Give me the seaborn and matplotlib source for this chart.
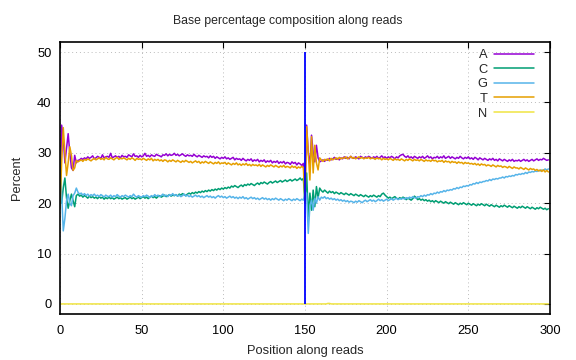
import numpy as np
import pandas as pd
import seaborn as sns
import matplotlib
matplotlib.use("Agg")
from matplotlib import pyplot as plt

# percent of each base at each read position (pos 0-149 read 1, 150-299 read 2)
pct_A = [
    20.0, 35.5, 33.0, 28.0, 31.0, 33.8, 30.0, 27.0, 26.5, 29.5,
    28.0, 28.5, 28.6, 28.9, 28.7, 29.0, 28.8, 29.2, 28.9, 29.1,
    29.4, 28.8, 29.0, 29.3, 29.1, 28.9, 29.6, 29.0, 29.2, 29.3,
    29.1, 29.9, 29.0, 29.2, 29.4, 29.1, 29.3, 29.0, 29.5, 29.2,
    29.3, 29.1, 29.6, 29.4, 29.2, 29.8, 29.3, 29.4, 29.1, 29.5,
    29.2, 29.4, 29.9, 29.3, 29.5, 29.2, 29.6, 29.4, 29.3, 29.7,
    29.5, 29.4, 29.2, 29.6, 29.5, 29.8, 29.4, 29.7, 29.5, 29.6,
    29.9, 29.5, 29.7, 29.4, 29.6, 29.8, 29.5, 29.3, 29.6, 29.4,
    29.5, 29.3, 29.7, 29.4, 29.2, 29.5, 29.3, 29.1, 29.4, 29.2,
    29.3, 29.0, 29.4, 29.1, 29.3, 28.9, 29.2, 29.0, 28.8, 29.1,
    28.9, 29.2, 28.8, 29.0, 28.7, 28.9, 29.1, 28.6, 28.9, 28.7,
    28.8, 28.5, 28.9, 28.6, 28.4, 28.7, 28.5, 28.8, 28.3, 28.6,
    28.4, 28.7, 28.2, 28.5, 28.3, 28.6, 28.1, 28.4, 28.2, 28.5,
    28.0, 28.3, 28.1, 28.4, 27.9, 28.2, 28.0, 28.3, 27.8, 28.1,
    28.0, 27.7, 28.2, 27.9, 28.1, 27.6, 28.0, 27.8, 27.5, 27.9,
    22.5, 35.5, 30.0, 27.5, 33.5, 30.0, 28.2, 31.5, 29.0, 28.2,
    28.4, 28.6, 28.3, 28.7, 28.5, 28.9, 28.6, 28.8, 29.1, 28.7,
    28.9, 28.6, 29.0, 28.8, 29.2, 28.9, 29.1, 28.8, 29.3, 29.0,
    28.9, 29.2, 29.0, 28.8, 29.3, 29.1, 28.9, 29.2, 29.0, 29.3,
    29.1, 28.9, 29.2, 29.0, 29.3, 28.9, 29.1, 29.4, 29.0, 29.2,
    28.9, 29.2, 29.0, 29.3, 29.1, 28.8, 29.2, 29.0, 29.4, 29.6,
    29.7, 29.3, 29.1, 29.4, 29.0, 29.2, 28.9, 29.3, 29.1, 28.9,
    29.2, 29.0, 29.3, 28.9, 29.1, 29.4, 29.0, 29.2, 28.8, 29.1,
    29.0, 29.3, 28.9, 29.2, 29.0, 29.4, 28.9, 29.1, 29.3, 28.9,
    29.2, 29.0, 28.8, 29.1, 28.9, 29.3, 29.0, 28.8, 29.1, 28.9,
    29.2, 28.8, 29.0, 28.7, 29.1, 28.9, 28.6, 29.0, 28.8, 28.6,
    28.9, 28.7, 28.5, 28.8, 28.6, 28.9, 28.5, 28.7, 28.4, 28.8,
    28.6, 28.4, 28.7, 28.5, 28.3, 28.6, 28.4, 28.7, 28.3, 28.5,
    28.4, 28.6, 28.3, 28.5, 28.7, 28.4, 28.6, 28.3, 28.5, 28.7,
    28.4, 28.6, 28.8, 28.5, 28.7, 28.6, 28.9, 28.7, 28.5, 28.6,
]
pct_C = [
    31.5, 20.0, 23.0, 25.0, 21.0, 19.0, 20.5, 21.8, 20.5, 19.3,
    21.5, 21.8, 21.4, 21.6, 21.2, 21.5, 21.3, 21.0, 21.4, 21.1,
    21.3, 21.0, 21.2, 20.9, 21.3, 21.0, 21.2, 20.8, 21.1, 20.9,
    21.2, 20.9, 21.1, 20.8, 21.0, 21.2, 20.9, 21.1, 20.8, 21.0,
    21.1, 20.8, 21.0, 21.2, 20.9, 21.1, 20.8, 21.0, 21.2, 20.9,
    21.1, 21.3, 21.0, 21.2, 20.9, 21.2, 21.4, 21.1, 21.3, 21.0,
    21.3, 21.5, 21.2, 21.4, 21.6, 21.3, 21.5, 21.7, 21.4, 21.6,
    21.5, 21.7, 21.4, 21.8, 21.6, 21.9, 21.7, 21.5, 21.8, 22.0,
    21.8, 22.1, 21.9, 22.2, 22.0, 22.3, 22.1, 22.4, 22.2, 22.5,
    22.3, 22.6, 22.4, 22.7, 22.5, 22.8, 22.6, 22.9, 22.7, 23.0,
    22.8, 23.1, 22.9, 23.2, 23.0, 23.4, 23.2, 23.5, 23.3, 23.1,
    23.4, 23.6, 23.3, 23.7, 23.5, 23.8, 23.6, 23.9, 23.7, 23.5,
    23.8, 24.0, 23.7, 24.1, 23.9, 24.2, 24.0, 23.8, 24.1, 24.3,
    24.0, 24.2, 24.4, 24.1, 24.3, 24.5, 24.2, 24.4, 24.6, 24.3,
    24.5, 24.7, 24.4, 24.6, 24.8, 24.5, 24.7, 25.0, 24.6, 24.9,
    20.0, 26.0, 17.3, 22.0, 18.6, 22.6, 19.3, 23.3, 21.0, 23.0,
    22.5, 22.2, 22.6, 22.3, 22.0, 22.4, 22.1, 22.3, 21.9, 22.2,
    22.0, 21.8, 22.1, 21.9, 21.7, 22.0, 21.8, 21.6, 21.9, 21.7,
    21.5, 21.8, 21.6, 21.4, 21.7, 21.5, 21.3, 21.6, 21.4, 21.2,
    21.5, 21.3, 21.6, 21.4, 21.2, 21.5, 21.3, 21.8, 22.0, 21.6,
    21.3, 21.0, 21.2, 20.9, 21.1, 21.3, 21.0, 20.8, 21.1, 20.9,
    21.2, 21.0, 20.7, 21.0, 20.8, 20.6, 20.9, 21.4, 21.1, 20.7,
    20.9, 20.6, 20.8, 20.5, 20.7, 20.4, 20.6, 20.3, 20.5, 20.2,
    20.5, 20.3, 20.1, 20.4, 20.2, 20.0, 20.3, 20.1, 19.9, 20.2,
    20.0, 19.8, 20.1, 19.9, 19.7, 20.0, 19.8, 20.1, 19.9, 19.7,
    20.0, 19.8, 19.6, 19.9, 19.7, 19.5, 19.8, 19.6, 19.9, 19.7,
    19.5, 19.8, 19.6, 19.4, 19.7, 19.5, 19.3, 19.6, 19.4, 19.2,
    19.5, 19.3, 19.6, 19.4, 19.2, 19.5, 19.3, 19.1, 19.4, 19.2,
    19.0, 19.3, 19.1, 19.4, 19.2, 19.0, 19.3, 19.1, 18.9, 19.2,
    19.0, 18.8, 19.1, 18.9, 19.2, 19.0, 18.8, 19.0, 18.7, 18.9,
]
pct_G = [
    31.0, 22.0, 14.5, 17.0, 20.5, 21.8, 20.0, 19.5, 21.5, 22.0,
    23.0, 22.2, 21.8, 22.0, 21.6, 21.9, 21.5, 21.8, 21.4, 21.7,
    21.5, 21.8, 21.4, 21.6, 21.3, 21.7, 21.5, 21.2, 21.6, 21.4,
    21.3, 21.6, 21.2, 21.5, 21.3, 21.7, 21.4, 21.2, 21.5, 21.3,
    21.6, 21.4, 21.2, 21.5, 21.3, 21.8, 21.4, 21.2, 21.5, 21.3,
    21.2, 21.5, 21.3, 21.6, 21.4, 21.1, 21.5, 21.3, 21.7, 21.4,
    21.6, 21.3, 21.5, 21.8, 21.4, 21.6, 21.3, 21.7, 21.5, 21.9,
    21.5, 21.7, 21.4, 21.6, 21.3, 21.5, 21.8, 21.4, 21.6, 21.3,
    21.5, 21.2, 21.4, 21.6, 21.3, 21.5, 21.2, 21.4, 21.1, 21.3,
    21.5, 21.2, 21.4, 21.1, 21.3, 21.0, 21.3, 21.5, 21.2, 21.4,
    21.1, 21.3, 21.0, 21.2, 21.4, 21.1, 21.3, 21.0, 21.2, 20.9,
    21.2, 21.0, 21.3, 20.9, 21.1, 20.8, 21.0, 21.2, 20.9, 21.1,
    20.8, 21.0, 20.7, 20.9, 21.1, 20.8, 21.0, 20.7, 20.9, 20.6,
    20.9, 20.7, 21.0, 20.8, 20.6, 20.9, 20.7, 20.5, 20.8, 20.6,
    20.9, 20.7, 20.5, 20.8, 20.6, 20.9, 20.7, 20.5, 20.8, 20.6,
    22.0, 22.0, 14.0, 19.5, 20.6, 18.6, 21.0, 20.0, 21.3, 20.6,
    21.2, 21.0, 21.3, 20.9, 21.1, 20.8, 21.0, 20.7, 20.9, 20.6,
    20.8, 20.5, 20.7, 20.4, 20.6, 20.3, 20.5, 20.2, 20.4, 20.3,
    20.1, 20.4, 20.2, 20.5, 20.3, 20.1, 20.4, 20.6, 20.3, 20.5,
    20.7, 20.4, 20.6, 20.3, 20.5, 20.8, 20.5, 20.7, 20.4, 20.6,
    20.8, 20.5, 20.7, 20.9, 20.6, 20.8, 21.0, 20.7, 20.9, 20.8,
    21.0, 20.8, 21.1, 20.9, 21.2, 21.0, 21.3, 21.1, 21.0, 21.3,
    21.2, 21.5, 21.3, 21.6, 21.4, 21.7, 21.6, 21.9, 21.7, 22.0,
    21.9, 22.2, 22.0, 22.3, 22.2, 22.5, 22.3, 22.6, 22.5, 22.7,
    22.6, 22.9, 22.8, 23.1, 22.9, 23.2, 23.1, 23.4, 23.3, 23.5,
    23.4, 23.7, 23.6, 23.9, 23.8, 24.1, 23.9, 24.2, 24.1, 24.3,
    24.3, 24.5, 24.4, 24.7, 24.5, 24.8, 24.7, 24.9, 24.8, 25.0,
    25.0, 25.2, 25.0, 25.3, 25.2, 25.4, 25.3, 25.5, 25.4, 25.7,
    25.6, 25.8, 25.7, 25.9, 25.8, 26.1, 25.9, 26.2, 26.1, 26.3,
    26.2, 26.4, 26.3, 26.5, 26.4, 26.6, 26.5, 26.8, 26.6, 26.8,
]
pct_T = [
    19.0, 28.0, 35.0, 30.0, 25.5, 28.0, 31.2, 29.5, 26.5, 27.0,
    28.5, 28.2, 28.4, 28.6, 28.3, 28.7, 28.5, 28.8, 28.6, 28.4,
    28.7, 28.9, 28.6, 28.8, 29.0, 28.7, 28.9, 28.6, 29.1, 28.8,
    28.7, 29.0, 28.8, 28.6, 28.9, 29.1, 28.7, 28.9, 28.8, 29.0,
    28.8, 28.6, 28.9, 28.7, 29.0, 28.8, 28.5, 28.9, 28.7, 28.8,
    28.6, 28.9, 28.7, 28.5, 28.8, 28.6, 28.9, 28.4, 28.7, 28.5,
    28.7, 28.4, 28.6, 28.3, 28.6, 28.5, 28.2, 28.5, 28.3, 28.6,
    28.4, 28.2, 28.5, 28.3, 28.1, 28.4, 28.2, 28.5, 28.3, 28.1,
    28.3, 28.0, 28.2, 28.4, 28.1, 28.3, 27.9, 28.2, 28.0, 28.3,
    28.1, 27.9, 28.2, 28.0, 27.8, 28.1, 27.9, 28.2, 27.8, 28.0,
    27.9, 28.1, 27.7, 28.0, 27.8, 27.6, 27.9, 27.7, 28.0, 27.6,
    27.8, 27.5, 27.8, 27.6, 27.9, 27.5, 27.7, 27.4, 27.7, 27.5,
    27.6, 27.4, 27.7, 27.3, 27.6, 27.4, 27.2, 27.5, 27.3, 27.6,
    27.4, 27.2, 27.5, 27.3, 27.1, 27.4, 27.2, 27.5, 27.1, 27.3,
    27.2, 27.0, 27.4, 27.1, 27.3, 26.9, 27.2, 27.0, 27.3, 27.1,
    20.0, 35.2, 30.0, 24.6, 33.2, 26.0, 31.5, 28.0, 26.6, 29.0,
    28.6, 28.3, 28.7, 28.5, 28.8, 28.4, 28.9, 28.6, 28.8, 29.0,
    28.7, 29.1, 28.8, 29.0, 28.9, 29.2, 28.8, 29.0, 29.3, 28.9,
    29.1, 28.8, 29.0, 29.2, 28.9, 29.1, 28.8, 29.0, 28.9, 29.1,
    28.8, 29.0, 28.9, 28.7, 29.0, 28.8, 28.9, 28.6, 28.9, 28.7,
    28.8, 28.6, 28.9, 28.7, 28.5, 28.8, 28.6, 28.7, 28.5, 28.8,
    28.6, 28.4, 28.7, 28.5, 28.8, 28.6, 28.4, 28.7, 28.5, 28.6,
    28.4, 28.7, 28.5, 28.3, 28.6, 28.4, 28.5, 28.3, 28.6, 28.4,
    28.5, 28.2, 28.4, 28.3, 28.5, 28.1, 28.4, 28.2, 28.3, 28.0,
    28.3, 28.1, 28.2, 27.9, 28.2, 28.0, 28.1, 27.8, 28.1, 27.9,
    28.0, 27.8, 27.9, 27.7, 27.9, 27.6, 27.8, 27.5, 27.8, 27.6,
    27.7, 27.4, 27.6, 27.5, 27.3, 27.6, 27.4, 27.2, 27.5, 27.3,
    27.4, 27.1, 27.3, 27.2, 27.0, 27.3, 27.1, 26.9, 27.2, 27.0,
    27.0, 26.8, 27.1, 26.9, 26.7, 27.0, 26.8, 26.6, 26.9, 26.7,
    26.8, 26.5, 26.7, 26.4, 26.6, 26.3, 26.6, 26.2, 26.5, 26.2,
]
# N stays at zero apart from a tiny blip early in read 2
pct_N = [0.0] * 300
pct_N[164] = 0.1
pct_N[165] = 0.1

positions = np.arange(300)
bases = ['A', 'C', 'G', 'T', 'N']
colors = ['#9400d3', '#009e73', '#56b4e9', '#e69f00', '#f0e442']
read_boundary = 150

df = pd.concat([
    pd.DataFrame({'pos': positions, 'pct': vals, 'base': b})
    for b, vals in zip(bases, [pct_A, pct_C, pct_G, pct_T, pct_N])
])

sns.set_theme(style="white")
plt.rcParams['font.family'] = ['Liberation Sans', 'DejaVu Sans']

fig = plt.figure(figsize=(5.76, 3.6), dpi=100)
ax = fig.add_axes([60/576, 46/360, 490/576, 272/360])

sns.lineplot(data=df, x='pos', y='pct', hue='base', palette=colors,
             linewidth=1.1, ax=ax)
ax.vlines(read_boundary, 0, 50, color='#0000ff', linewidth=1.3, zorder=5)

ax.set_xlim(0, 300)
ax.set_ylim(-2, 52)
ax.set_xticks(range(0, 301, 50))
ax.set_yticks(range(0, 51, 10))
ax.grid(True, linestyle=(0, (1, 3)), color='#bbbbbb', linewidth=0.7)
ax.tick_params(direction='in', length=4, width=0.8, top=True, right=True,
               labelsize=9.3, colors='black', pad=6)
ax.tick_params(axis='x', pad=8)
for s in ax.spines.values():
    s.set_color('black')
    s.set_linewidth(1.2)

ax.set_xlabel('Position along reads', fontsize=9.3, labelpad=6)
ax.set_ylabel('Percent', fontsize=9.3, labelpad=10)
fig.text(0.5, 1 - 21/360, 'Base percentage composition along reads',
         ha='center', va='center', fontsize=8.8)

leg = ax.legend(loc='upper right', bbox_to_anchor=(534/576, 1 - 49/360),
                bbox_transform=fig.transFigure, frameon=False,
                markerfirst=False, handlelength=3.1, handletextpad=0.5,
                labelspacing=0.2, borderpad=0, borderaxespad=0,
                fontsize=9.3)
for t in leg.get_texts():
    t.set_ha('right')

fig.savefig('out.png', dpi=100)
